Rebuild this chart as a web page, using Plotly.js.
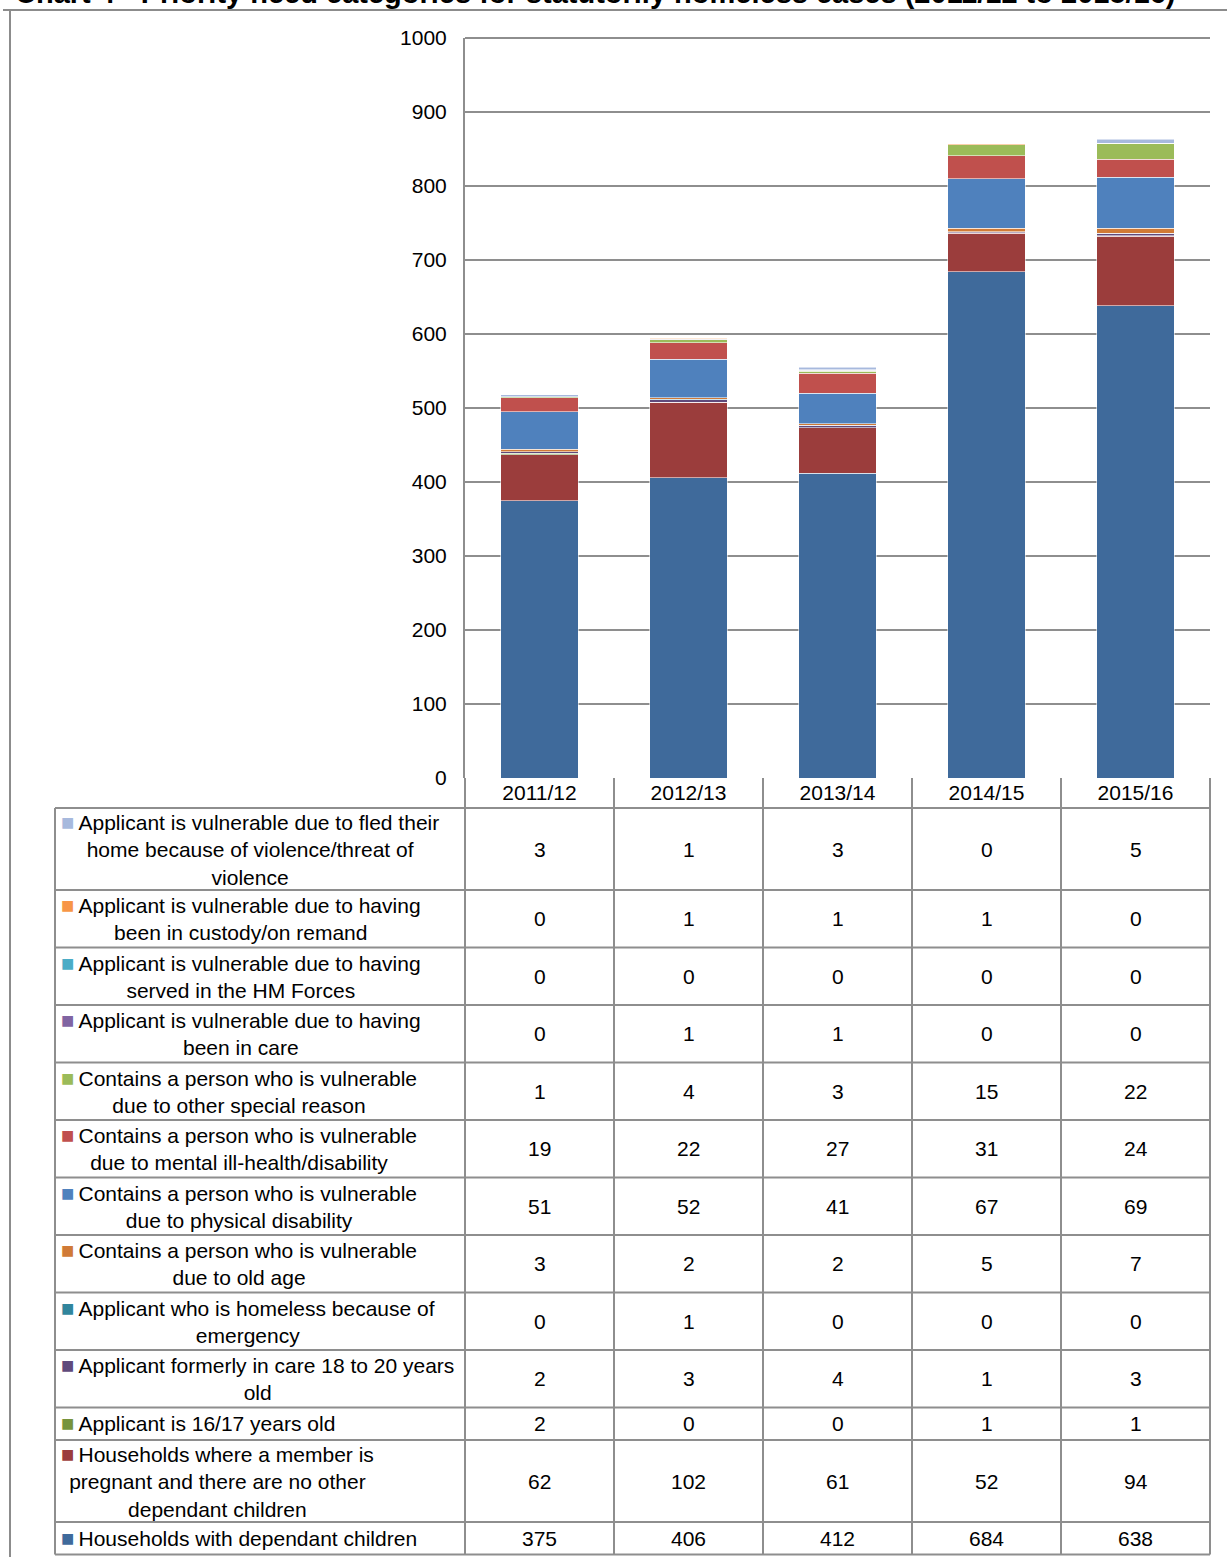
<!DOCTYPE html>
<html>
<head>
<meta charset="utf-8">
<script src="https://cdn.plot.ly/plotly-3.0.1.min.js"></script>
<style>html,body{margin:0;padding:0;background:#fff;}#chart{width:1227px;height:1557px;}</style>
</head>
<body>
<div id="chart"></div>
<script>
// ---------- DATA ----------
const categories = ['2011/12', '2012/13', '2013/14', '2014/15', '2015/16'];

// table order, top to bottom
const labels = [
  'Applicant is vulnerable due to fled their<br>home because of violence/threat of<br>violence',
  'Applicant is vulnerable due to having<br>been in custody/on remand',
  'Applicant is vulnerable due to having<br>served in the HM Forces',
  'Applicant is vulnerable due to having<br>been in care',
  'Contains a person who is vulnerable<br>due to other special reason',
  'Contains a person who is vulnerable<br>due to mental ill-health/disability',
  'Contains a person who is vulnerable<br>due to physical disability',
  'Contains a person who is vulnerable<br>due to old age',
  'Applicant who is homeless because of<br>emergency',
  'Applicant formerly in care 18 to 20 years<br>old',
  'Applicant is 16/17 years old',
  'Households where a member is<br>pregnant and there are no other<br>dependant children',
  'Households with dependant children'
];

const fledViolence     = [3, 1, 3, 0, 5];
const custodyRemand    = [0, 1, 1, 1, 0];
const hmForces         = [0, 0, 0, 0, 0];
const beenInCare       = [0, 1, 1, 0, 0];
const otherSpecial     = [1, 4, 3, 15, 22];
const mentalHealth     = [19, 22, 27, 31, 24];
const physicalDisab    = [51, 52, 41, 67, 69];
const oldAge           = [3, 2, 2, 5, 7];
const emergency        = [0, 1, 0, 0, 0];
const formerlyInCare   = [2, 3, 4, 1, 3];
const age1617          = [2, 0, 0, 1, 1];
const pregnant         = [62, 102, 61, 52, 94];
const dependantChildren= [375, 406, 412, 684, 638];

const seriesValues = [fledViolence, custodyRemand, hmForces, beenInCare, otherSpecial,
  mentalHealth, physicalDisab, oldAge, emergency, formerlyInCare, age1617, pregnant, dependantChildren];

const colors = ['#A7B9DD', '#F79646', '#4BACC6', '#8064A2', '#9BBB59',
  '#C0504D', '#4F81BD', '#D07A36', '#31859C', '#604A7B', '#77933C', '#9B3D3C', '#3F6A9B'];

const titleText = 'Chart 4 - Priority need categories for statutorily homeless cases (2011/12 to 2015/16)';

// ---------- LAYOUT HELPERS ----------
const W = 1227, H = 1557;
const L = 465, R = 1210, T = 38, B = 778;
const px = v => (v - L) / (R - L);
const py = v => (B - v) / (B - T);
const gridCol = '#8E8E8E';
const FONT = 'Liberation Sans, Arial, sans-serif';

// ---------- TRACES (stack bottom-up => reverse table order) ----------
const traces = [];
for (let i = seriesValues.length - 1; i >= 0; i--) {
  traces.push({
    type: 'bar',
    x: categories,
    y: seriesValues[i],
    name: labels[i].replace(/<br>/g, ' '),
    marker: {color: colors[i], line: {color: 'rgba(255,255,255,0.55)', width: 1}},
    hoverinfo: 'x+y+name'
  });
}

// ---------- TABLE ----------
const shapes = [];
const annotations = [];
const lineStyle = {color: gridCol, width: 2};
const headerBottom = 808;
const tableLeft = 55;

// top gridline at axis maximum
shapes.push({type: 'line', xref: 'paper', yref: 'paper', x0: 0, x1: 1, y0: 1, y1: 1, line: lineStyle});

// row heights from label line counts
const rowTops = [];
let yCur = headerBottom;
labels.forEach(lb => {
  const n = lb.split('<br>').length;
  const h = n === 1 ? 32.5 : (n === 2 ? 57.5 : 82);
  rowTops.push([yCur, yCur + h]);
  yCur += h;
});
const tableBottom = yCur;

// vertical lines
shapes.push({type: 'line', xref: 'paper', yref: 'paper', x0: px(tableLeft), x1: px(tableLeft), y0: py(headerBottom), y1: py(tableBottom), line: lineStyle});
for (let k = 0; k <= categories.length; k++) {
  const xx = L + k * (R - L) / categories.length;
  shapes.push({type: 'line', xref: 'paper', yref: 'paper', x0: px(xx), x1: px(xx), y0: py(B), y1: py(tableBottom), line: lineStyle});
}
// horizontal lines
shapes.push({type: 'line', xref: 'paper', yref: 'paper', x0: px(tableLeft), x1: px(R), y0: py(headerBottom), y1: py(headerBottom), line: lineStyle});
rowTops.forEach(([t, b]) => {
  shapes.push({type: 'line', xref: 'paper', yref: 'paper', x0: px(tableLeft), x1: px(R), y0: py(b), y1: py(b), line: lineStyle});
});

// outer chart frame (cut off on right / bottom)
shapes.push({type: 'line', xref: 'paper', yref: 'paper', x0: px(10), x1: px(10), y0: py(10), y1: py(H + 5), line: {color: '#8C8C8C', width: 2}});
shapes.push({type: 'line', xref: 'paper', yref: 'paper', x0: px(3), x1: px(W + 5), y0: py(10), y1: py(10), line: {color: '#8C8C8C', width: 2}});

// title (partly cut off at the top, as in the reference)
annotations.push({
  xref: 'paper', yref: 'paper', x: px(595), y: py(10.5), xanchor: 'center', yanchor: 'bottom',
  showarrow: false, text: '<b>' + titleText + '</b>',
  font: {family: FONT, size: 29, color: '#000'}
});

// row labels and values
labels.forEach((lb, i) => {
  const [t, b] = rowTops[i];
  const yc = py((t + b) / 2);
  annotations.push({
    xref: 'paper', yref: 'paper', x: px(59), y: yc, xanchor: 'left', yanchor: 'middle',
    align: 'center', showarrow: false,
    text: '<span style="color:' + colors[i] + ';font-size:22px">■</span>\u2009' + lb,
    font: {family: FONT, size: 21, color: '#000'}
  });
  seriesValues[i].forEach((v, j) => {
    annotations.push({
      xref: 'x', yref: 'paper', x: categories[j], y: yc, xanchor: 'center', yanchor: 'middle',
      showarrow: false, text: String(v),
      font: {family: FONT, size: 21, color: '#000'}
    });
  });
});

const layout = {
  width: W, height: H,
  margin: {l: L, r: W - R, t: T, b: H - B, pad: 0},
  paper_bgcolor: '#fff', plot_bgcolor: '#fff',
  barmode: 'stack',
  bargap: 0.483,
  showlegend: false,
  font: {family: FONT, size: 21, color: '#000'},
  xaxis: {
    type: 'category', showgrid: false, zeroline: false, showline: false,
    ticks: '', tickfont: {family: FONT, size: 21, color: '#000'}, ticklabelstandoff: 0
  },
  yaxis: {
    range: [0, 1000], dtick: 100, tick0: 0,
    showgrid: true, gridcolor: gridCol, gridwidth: 2,
    zeroline: false, showline: true, linecolor: gridCol, linewidth: 2,
    ticks: '', tickfont: {family: FONT, size: 21, color: '#000'}, ticklabelstandoff: 12
  },
  shapes: shapes,
  annotations: annotations
};

Plotly.newPlot('chart', traces, layout, {displayModeBar: false});
</script>
</body>
</html>
